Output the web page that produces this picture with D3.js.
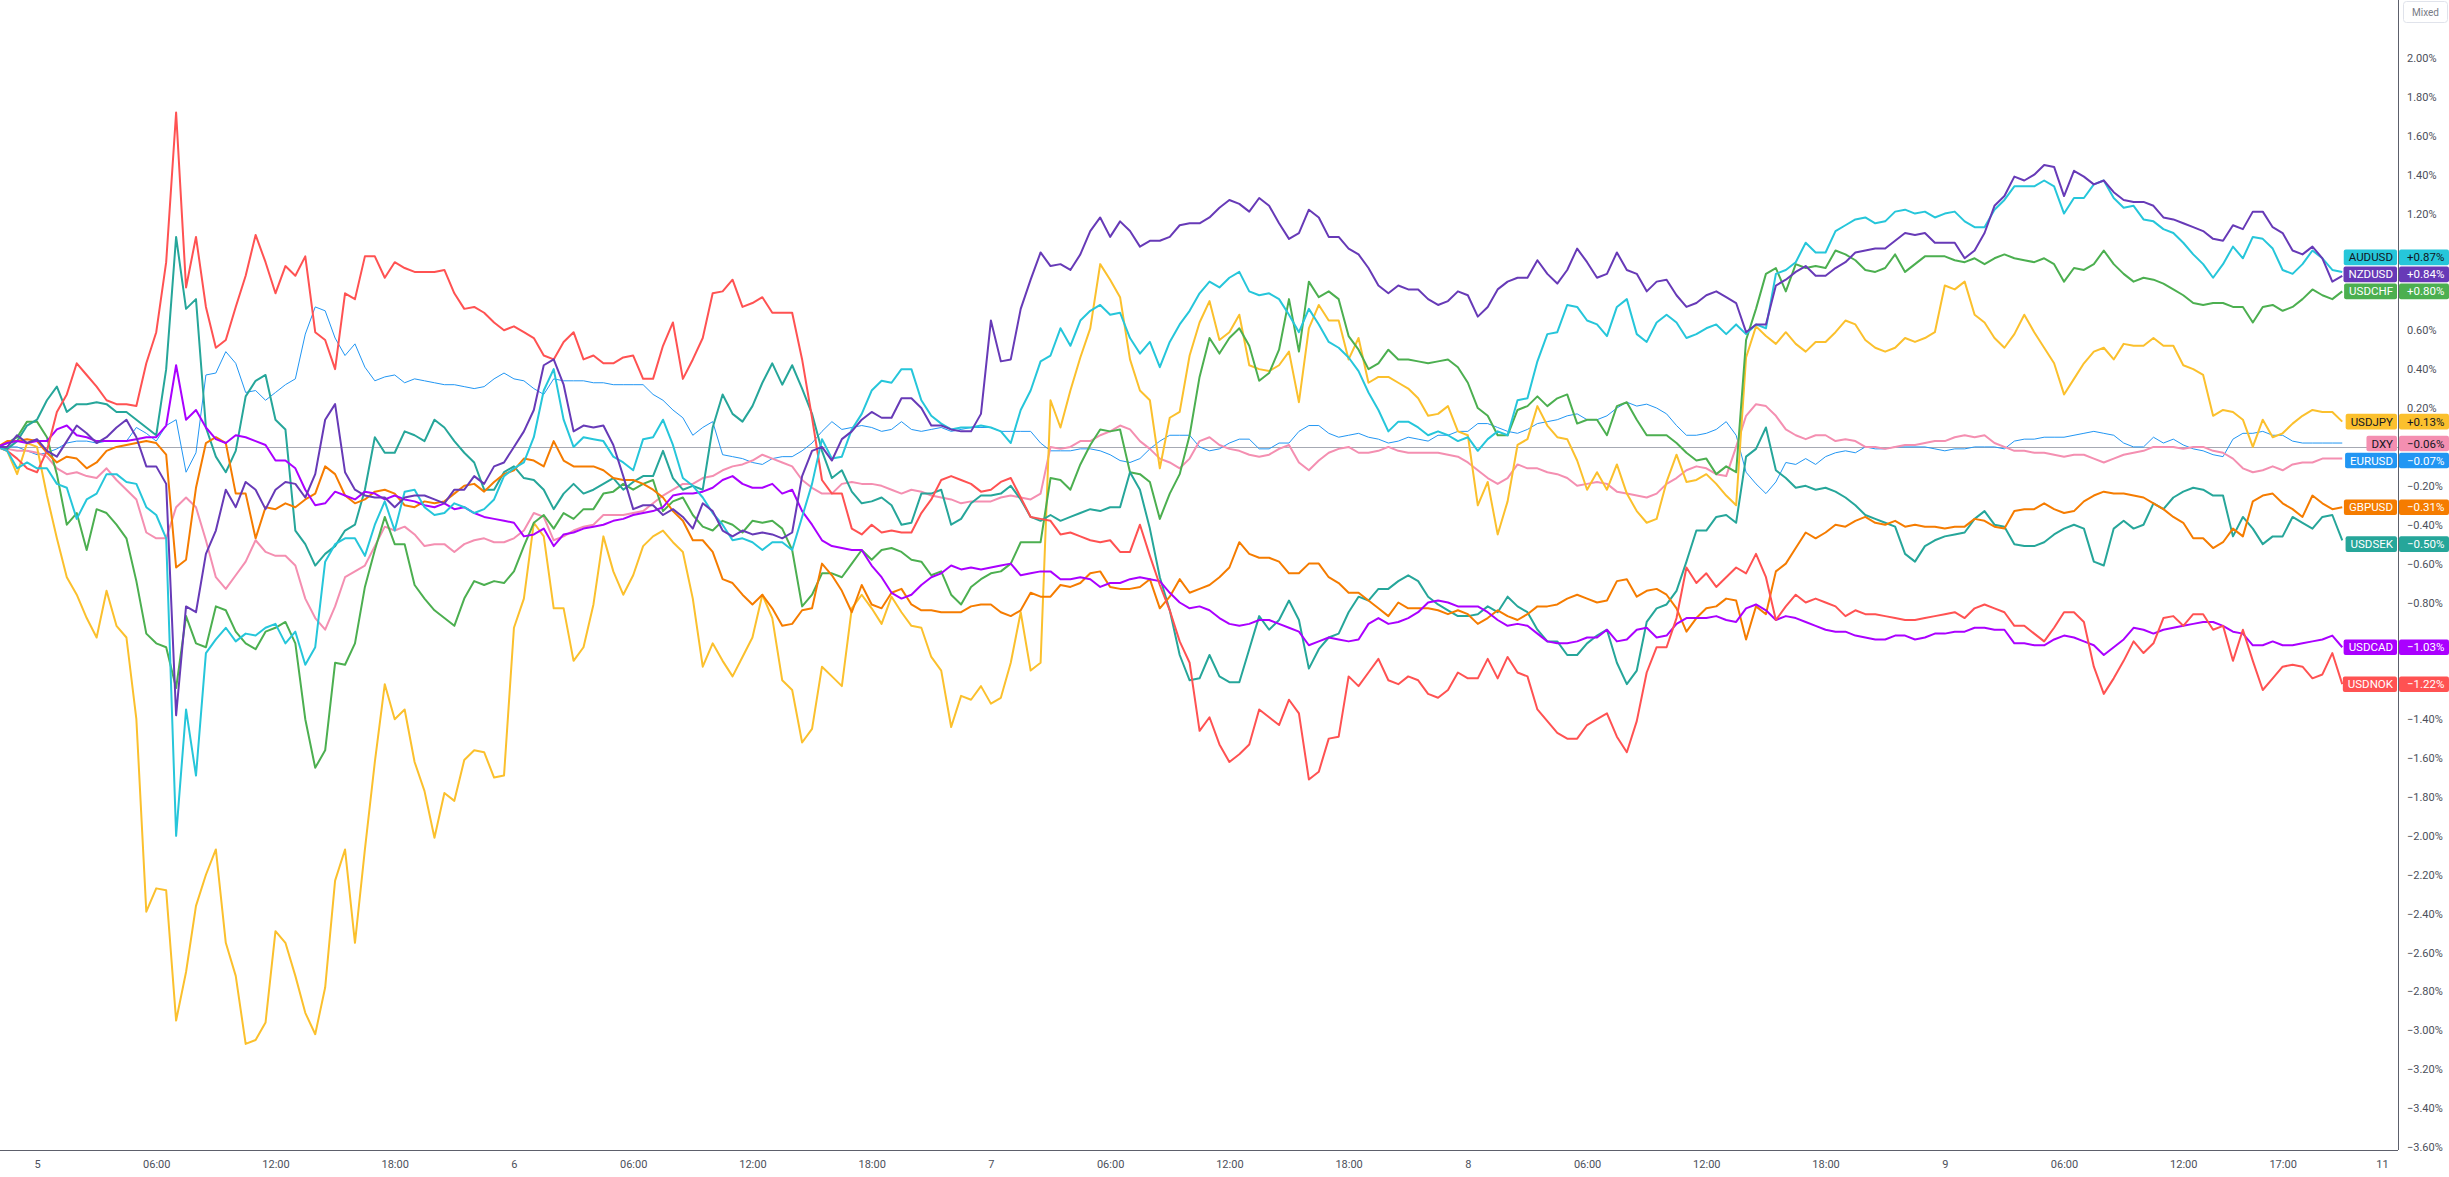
<!DOCTYPE html>
<html>
<head>
<meta charset="utf-8">
<title>Compare</title>
<script src="https://cdn.jsdelivr.net/npm/d3@7"></script>
<style>
  html, body { margin: 0; padding: 0; background: #ffffff; overflow: hidden; }
  svg { display: block; }
  text { font-family: Roboto, "Liberation Sans", Arial, sans-serif; }
</style>
</head>
<body>
<div class="svg-container"></div>
<script>
// hours counted from day 5 00:00 (weekend gap removed, so "11" sits at 118)
var hours = [-2,-1,0,1,2,3,4,5,6,7,8,9,10,11,12,13,14,15,16,17,18,19,20,21,22,23,
  24,25,26,27,28,29,30,31,32,33,34,35,36,37,38,39,40,41,42,43,44,45,46,47,
  48,49,50,51,52,53,54,55,56,57,58,59,60,61,62,63,64,65,66,67,68,69,70,71,
  72,73,74,75,76,77,78,79,80,81,82,83,84,85,86,87,88,89,90,91,92,93,94,95,
  96,97,98,99,100,101,102,103,104,105,106,107,108,109,110,111,112,113,114,115,116];

var halfHours = [-1.5,-0.5,0.5,1.5,2.5,3.5,4.5,5.5,6.5,7.5,8.5,9.5,10.5,11.5,12.5,13.5,14.5,15.5,16.5,17.5,18.5,19.5,20.5,21.5,22.5,
  23.5,24.5,25.5,26.5,27.5,28.5,29.5,30.5,31.5,32.5,33.5,34.5,35.5,36.5,37.5,38.5,39.5,40.5,41.5,42.5,43.5,44.5,45.5,46.5,
  47.5,48.5,49.5,50.5,51.5,52.5,53.5,54.5,55.5,56.5,57.5,58.5,59.5,60.5,61.5,62.5,63.5,64.5,65.5,66.5,67.5,68.5,69.5,70.5,
  71.5,72.5,73.5,74.5,75.5,76.5,77.5,78.5,79.5,80.5,81.5,82.5,83.5,84.5,85.5,86.5,87.5,88.5,89.5,90.5,91.5,92.5,93.5,94.5,
  95.5,96.5,97.5,98.5,99.5,100.5,101.5,102.5,103.5,104.5,105.5,106.5,107.5,108.5,109.5,110.5,111.5,112.5,113.5,114.5,115.5];

// % change on the hour
var audusd = [0,-0.11,-0.11,-0.19,-0.37,-0.24,-0.14,-0.19,-0.35,-2.00,-1.69,-0.99,-1.00,-0.97,-0.91,-0.95,-1.03,-0.50,-0.47,-0.40,-0.43,-0.22,-0.35,-0.29,-0.34,-0.27,
  -0.11,0.05,0.40,0.00,0.04,-0.05,-0.12,0.05,0.01,-0.20,-0.34,-0.48,-0.49,-0.49,-0.53,-0.19,-0.06,0.09,0.29,0.33,0.40,0.16,0.09,0.10,
  0.10,0.02,0.29,0.47,0.52,0.70,0.68,0.56,0.54,0.54,0.70,0.85,0.87,0.80,0.79,0.68,0.71,0.54,0.46,0.28,0.08,0.13,0.06,0.06,
  0.05,0.04,0.06,0.25,0.58,0.73,0.65,0.57,0.76,0.54,0.68,0.56,0.61,0.58,0.58,0.61,0.91,1.05,1.00,1.14,1.18,1.16,1.22,1.21,
  1.20,1.16,1.13,1.27,1.34,1.37,1.20,1.28,1.37,1.23,1.17,1.12,1.05,0.94,0.94,0.97,1.07,0.91,0.94,0.97,0.90];
var nzdusd = [0,0.06,0.04,-0.05,0.11,0.02,0.10,0.05,-0.10,-1.38,-0.85,-0.43,-0.31,-0.22,-0.22,-0.19,-0.14,0.22,-0.22,-0.26,-0.31,-0.25,-0.27,-0.22,-0.15,-0.10,
  0.00,0.19,0.45,0.08,0.10,0.01,-0.32,-0.30,-0.32,-0.42,-0.33,-0.46,-0.45,-0.45,-0.44,-0.02,-0.07,0.08,0.18,0.15,0.25,0.11,0.09,0.08,
  0.65,0.45,0.86,0.93,0.91,1.11,1.08,1.11,1.06,1.08,1.15,1.18,1.27,1.21,1.24,1.07,1.22,1.08,1.02,0.92,0.79,0.81,0.76,0.75,
  0.78,0.72,0.85,0.87,0.89,0.91,0.95,0.89,0.91,0.80,0.86,0.72,0.78,0.77,0.59,0.63,0.86,0.93,0.88,0.95,1.01,1.02,1.10,1.10,
  1.05,0.97,1.10,1.29,1.37,1.45,1.29,1.39,1.37,1.27,1.26,1.18,1.15,1.11,1.06,1.12,1.21,1.10,0.99,0.97,0.88];
var usdchf = [0,0.05,0.13,-0.14,-0.34,-0.32,-0.40,-0.69,-1.01,-1.24,-1.01,-0.82,-0.95,-1.04,-0.93,-1.01,-1.65,-1.11,-1.01,-0.53,-0.50,-0.71,-0.84,-0.92,-0.69,-0.69,
  -0.64,-0.39,-0.42,-0.37,-0.32,-0.23,-0.22,-0.17,-0.28,-0.35,-0.43,-0.40,-0.38,-0.38,-0.53,-0.76,-0.65,-0.60,-0.58,-0.52,-0.58,-0.66,-0.76,-0.72,
  -0.65,-0.60,-0.49,-0.16,-0.22,0.01,0.08,-0.13,-0.18,-0.24,0.06,0.56,0.56,0.52,0.38,0.76,0.85,0.80,0.57,0.40,0.50,0.45,0.43,0.45,
  0.33,0.16,0.06,0.21,0.21,0.27,0.14,0.06,0.23,0.06,0.06,-0.03,-0.06,-0.10,0.55,0.89,0.80,0.92,0.92,0.99,0.91,0.92,0.90,0.98,
  0.98,0.95,0.94,0.99,0.96,0.97,0.85,0.91,1.01,0.89,0.87,0.84,0.78,0.73,0.74,0.72,0.72,0.70,0.76,0.78,0.80];
var usdjpy = [0,-0.14,0.00,-0.47,-0.76,-0.98,-0.92,-1.40,-2.27,-2.95,-2.36,-2.07,-2.72,-3.05,-2.49,-2.72,-3.02,-2.23,-2.55,-1.62,-1.40,-1.62,-2.01,-1.82,-1.56,-1.70,
  -0.93,-0.39,-0.83,-1.10,-0.81,-0.64,-0.66,-0.46,-0.49,-0.78,-1.01,-1.18,-0.98,-0.88,-1.25,-1.45,-1.18,-0.83,-0.83,-0.77,-0.92,-1.08,-1.44,-1.30,
  -1.32,-1.11,-1.15,0.24,0.29,0.61,0.86,0.45,0.24,0.15,0.47,0.75,0.59,0.42,0.39,0.49,0.61,0.65,0.45,0.33,0.36,0.30,0.16,0.21,
  0.06,-0.18,-0.28,0.04,0.11,0.04,-0.22,-0.22,-0.24,-0.39,-0.18,-0.18,-0.14,-0.25,0.46,0.57,0.59,0.49,0.54,0.65,0.55,0.49,0.56,0.56,
  0.83,0.85,0.64,0.51,0.68,0.51,0.27,0.43,0.51,0.53,0.52,0.52,0.42,0.37,0.19,0.14,0.14,0.07,0.16,0.18,0.13];
var dxy = [0,-0.02,-0.03,-0.11,-0.13,-0.16,-0.17,-0.27,-0.47,-0.31,-0.31,-0.67,-0.66,-0.48,-0.56,-0.61,-0.88,-0.82,-0.64,-0.51,-0.43,-0.45,-0.50,-0.54,-0.48,-0.49,
  -0.47,-0.34,-0.48,-0.43,-0.40,-0.35,-0.34,-0.29,-0.22,-0.19,-0.15,-0.10,-0.07,-0.06,-0.10,-0.21,-0.24,-0.18,-0.19,-0.22,-0.22,-0.25,-0.27,-0.28,
  -0.28,-0.25,-0.27,0.00,0.00,0.03,0.08,0.09,-0.01,-0.08,-0.06,0.05,-0.01,-0.04,-0.04,0.01,-0.12,-0.03,0.00,-0.03,0.00,-0.03,-0.03,-0.04,
  -0.08,-0.16,-0.16,-0.11,-0.13,-0.16,-0.19,-0.19,-0.24,-0.26,-0.19,-0.12,-0.11,-0.15,0.16,0.21,0.09,0.04,0.06,0.04,0.00,-0.01,0.01,0.02,
  0.03,0.06,0.06,0.00,-0.02,-0.03,-0.05,-0.04,-0.08,-0.04,-0.02,0.00,-0.01,0.00,-0.03,-0.11,-0.12,-0.12,-0.08,-0.06,-0.06];
var eurusd = [0,0.00,-0.04,-0.01,0.03,0.02,0.03,0.10,0.03,0.14,-0.03,0.38,0.43,0.29,0.28,0.35,0.72,0.56,0.53,0.34,0.37,0.35,0.33,0.32,0.30,0.35,
  0.35,0.30,0.35,0.34,0.33,0.32,0.32,0.27,0.19,0.06,0.13,-0.05,-0.08,-0.06,-0.05,0.02,0.13,0.10,0.10,0.09,0.09,0.09,0.08,0.10,
  0.10,0.08,0.08,-0.02,-0.02,-0.01,-0.04,-0.08,-0.01,0.06,0.06,-0.02,0.02,0.04,-0.01,0.02,0.11,0.07,0.06,0.05,0.02,0.05,0.03,0.06,
  0.08,0.12,0.08,0.09,0.13,0.16,0.14,0.16,0.23,0.22,0.17,0.06,0.07,0.13,-0.13,-0.24,-0.08,-0.06,-0.05,-0.02,0.00,-0.01,0.00,0.00,
  -0.02,-0.01,0.00,-0.01,0.04,0.05,0.05,0.07,0.07,0.02,0.00,0.02,0.01,-0.02,-0.05,0.07,0.08,0.06,0.02,0.02,0.02];
var gbpusd = [0,0.03,0.03,-0.08,-0.06,-0.08,0.00,0.02,0.02,-0.62,-0.21,0.05,-0.24,-0.47,-0.32,-0.31,-0.24,-0.14,-0.29,-0.23,-0.24,-0.31,-0.29,-0.24,-0.19,-0.18,
  -0.12,-0.07,0.03,-0.10,-0.10,-0.16,-0.17,-0.22,-0.33,-0.48,-0.54,-0.70,-0.81,-0.83,-0.91,-0.83,-0.66,-0.85,-0.81,-0.75,-0.81,-0.84,-0.85,-0.82,
  -0.81,-0.87,-0.75,-0.77,-0.72,-0.65,-0.72,-0.73,-0.68,-0.77,-0.75,-0.71,-0.62,-0.55,-0.57,-0.65,-0.60,-0.67,-0.75,-0.79,-0.87,-0.83,-0.83,-0.86,
  -0.86,-0.88,-0.87,-0.86,-0.82,-0.78,-0.78,-0.79,-0.68,-0.74,-0.76,-0.95,-0.83,-0.78,-0.99,-0.86,-0.60,-0.44,-0.44,-0.41,-0.36,-0.40,-0.41,-0.41,
  -0.42,-0.41,-0.38,-0.42,-0.32,-0.29,-0.34,-0.28,-0.23,-0.24,-0.26,-0.32,-0.39,-0.47,-0.49,-0.46,-0.25,-0.29,-0.36,-0.29,-0.31];
var usdsek = [0,0.03,0.14,0.31,0.22,0.23,0.18,0.14,0.06,1.08,0.76,-0.05,-0.02,0.34,0.14,-0.43,-0.61,-0.51,-0.40,0.05,-0.03,0.06,0.14,0.03,-0.08,-0.22,
  -0.10,-0.17,-0.32,-0.19,-0.22,-0.16,-0.18,-0.15,-0.16,-0.20,0.10,0.17,0.21,0.43,0.42,0.17,-0.16,-0.23,-0.28,-0.30,-0.39,-0.24,-0.40,-0.29,
  -0.25,-0.20,-0.36,-0.35,-0.36,-0.32,-0.31,-0.13,-0.42,-0.84,-1.20,-1.07,-1.21,-1.04,-0.94,-0.79,-1.14,-0.98,-0.85,-0.79,-0.73,-0.66,-0.77,-0.84,
  -0.87,-0.82,-0.77,-0.85,-1.00,-1.07,-1.01,-0.94,-1.22,-0.90,-0.81,-0.59,-0.43,-0.35,-0.05,0.10,-0.16,-0.20,-0.21,-0.26,-0.35,-0.39,-0.55,-0.51,
  -0.46,-0.44,-0.33,-0.41,-0.51,-0.49,-0.42,-0.42,-0.61,-0.38,-0.40,-0.32,-0.23,-0.22,-0.25,-0.36,-0.50,-0.46,-0.39,-0.36,-0.48];
var usdcad = [0,0.03,0.03,0.09,0.06,0.03,0.03,0.04,0.05,0.42,0.19,0.04,0.06,0.03,-0.07,-0.11,-0.30,-0.23,-0.27,-0.24,-0.25,-0.28,-0.31,-0.32,-0.34,-0.37,
  -0.39,-0.45,-0.51,-0.44,-0.41,-0.38,-0.35,-0.33,-0.25,-0.24,-0.21,-0.15,-0.21,-0.19,-0.22,-0.40,-0.51,-0.53,-0.61,-0.75,-0.76,-0.67,-0.61,-0.62,
  -0.62,-0.60,-0.65,-0.64,-0.68,-0.68,-0.70,-0.68,-0.68,-0.75,-0.83,-0.84,-0.91,-0.91,-0.89,-0.93,-1.02,-0.98,-1.00,-0.91,-0.91,-0.88,-0.80,-0.80,
  -0.82,-0.85,-0.92,-0.92,-1.00,-1.01,-0.98,-0.94,-0.99,-0.93,-0.97,-0.88,-0.88,-0.89,-0.83,-0.84,-0.87,-0.90,-0.94,-0.95,-0.98,-0.99,-0.97,-0.98,
  -0.96,-0.95,-0.93,-0.94,-1.01,-1.02,-0.97,-1.00,-1.07,-0.99,-0.94,-0.94,-0.92,-0.90,-0.92,-0.96,-1.02,-1.02,-1.01,-0.99,-1.03];
var usdnok = [0,-0.06,-0.13,0.18,0.43,0.31,0.22,0.21,0.59,1.72,1.08,0.51,0.72,1.09,0.79,0.88,0.59,0.40,0.76,0.98,0.95,0.90,0.90,0.79,0.72,0.64,
  0.62,0.56,0.45,0.59,0.47,0.43,0.47,0.35,0.64,0.45,0.79,0.86,0.74,0.69,0.69,0.15,-0.24,-0.42,-0.40,-0.43,-0.44,-0.27,-0.15,-0.19,
  -0.22,-0.16,-0.36,-0.38,-0.44,-0.48,-0.48,-0.54,-0.56,-0.84,-1.11,-1.39,-1.62,-1.53,-1.39,-1.30,-1.71,-1.50,-1.18,-1.16,-1.20,-1.18,-1.27,-1.25,
  -1.19,-1.09,-1.08,-1.18,-1.41,-1.50,-1.43,-1.37,-1.57,-1.16,-1.03,-0.62,-0.65,-0.67,-0.65,-0.67,-0.82,-0.80,-0.80,-0.87,-0.86,-0.87,-0.89,-0.88,
  -0.86,-0.88,-0.81,-0.85,-0.92,-1.00,-0.85,-0.90,-1.27,-1.10,-1.06,-0.88,-0.92,-0.86,-0.92,-0.94,-1.25,-1.13,-1.13,-1.17,-1.22];

// % change on the half hour
var audusd30 = [-0.02,-0.08,-0.11,-0.21,-0.27,-0.14,-0.18,-0.31,-0.47,-1.35,-1.06,-0.93,-0.96,-0.93,-1.01,-1.12,-0.59,-0.47,-0.56,-0.28,-0.23,-0.31,-0.34,-0.31,-0.32,
  -0.15,-0.08,0.29,0.14,0.05,0.03,-0.08,0.04,0.14,-0.16,-0.26,-0.40,-0.47,-0.53,-0.49,-0.36,0.04,-0.05,0.17,0.34,0.40,0.24,0.12,0.10,
  0.11,0.08,0.19,0.44,0.61,0.65,0.73,0.69,0.48,0.41,0.63,0.79,0.82,0.90,0.78,0.76,0.59,0.63,0.51,0.39,0.19,0.13,0.10,0.08,
  0.03,-0.02,0.08,0.24,0.44,0.59,0.72,0.63,0.72,0.58,0.64,0.64,0.58,0.63,0.63,0.63,0.89,0.95,1.00,1.11,1.17,1.15,1.21,1.20,
  1.18,1.21,1.13,1.22,1.34,1.34,1.34,1.28,1.35,1.28,1.24,1.16,1.10,0.99,0.87,1.03,1.08,1.02,0.89,1.01,0.91];
var nzdusd30 = [0.00,0.02,-0.02,0.03,0.07,0.05,0.14,-0.10,-0.19,-0.82,-0.55,-0.22,-0.18,-0.32,-0.18,-0.26,0.14,-0.13,-0.25,-0.26,-0.26,-0.25,-0.29,-0.22,-0.19,
  -0.08,0.08,0.42,0.32,0.11,0.11,-0.15,-0.30,-0.35,-0.36,-0.29,-0.43,-0.43,-0.44,-0.47,-0.15,0.00,0.04,0.14,0.15,0.25,0.20,0.11,0.08,
  0.17,0.44,0.71,1.00,0.94,0.99,1.18,1.16,1.03,1.06,1.14,1.15,1.23,1.25,1.28,1.15,1.10,1.18,1.08,0.99,0.83,0.83,0.81,0.73,
  0.80,0.67,0.81,0.87,0.96,0.84,1.02,0.87,1.00,0.89,0.85,0.78,0.74,0.80,0.74,0.63,0.83,0.90,0.88,0.92,1.00,1.02,1.06,1.09,
  1.05,1.05,1.01,1.24,1.39,1.40,1.44,1.42,1.35,1.31,1.26,1.24,1.17,1.13,1.07,1.14,1.21,1.13,1.01,1.03,0.85];
var usdchf30 = [0.02,0.13,0.05,-0.40,-0.53,-0.34,-0.47,-0.96,-1.03,-0.87,-1.03,-0.84,-1.01,-0.95,-0.90,-1.40,-1.56,-1.12,-0.72,-0.36,-0.50,-0.78,-0.88,-0.78,-0.71,
  -0.70,-0.51,-0.35,-0.34,-0.32,-0.24,-0.19,-0.19,-0.33,-0.26,-0.41,-0.38,-0.44,-0.39,-0.42,-0.82,-0.65,-0.67,-0.53,-0.53,-0.54,-0.59,-0.64,-0.81,
  -0.68,-0.64,-0.49,-0.49,-0.17,-0.09,0.09,0.09,-0.14,-0.37,-0.14,0.36,0.48,0.61,0.34,0.50,0.49,0.77,0.76,0.50,0.43,0.45,0.44,0.44,
  0.41,0.20,0.06,0.19,0.26,0.25,0.12,0.14,0.21,0.14,0.06,0.02,-0.07,-0.14,-0.13,0.71,0.92,0.94,0.93,1.01,0.96,0.90,0.99,0.94,
  0.98,0.96,0.97,0.97,0.97,0.95,0.94,0.92,0.94,0.94,0.85,0.86,0.81,0.74,0.74,0.72,0.64,0.73,0.72,0.81,0.76];
var usdjpy30 = [-0.02,0.02,-0.25,-0.67,-0.88,-0.74,-0.98,-2.39,-2.28,-2.70,-2.20,-2.55,-3.07,-2.96,-2.55,-2.91,-2.78,-2.07,-2.07,-1.22,-1.35,-1.77,-1.78,-1.61,-1.57,
  -1.69,-0.78,-0.46,-0.83,-1.03,-0.46,-0.76,-0.51,-0.43,-0.54,-1.13,-1.10,-1.08,-0.76,-1.20,-1.52,-1.13,-1.23,-0.76,-0.91,-0.85,-0.93,-1.15,-1.28,
  -1.23,-1.29,-0.85,-1.11,0.10,0.46,0.94,0.77,0.29,-0.11,0.18,0.64,0.55,0.68,0.40,0.42,0.23,0.73,0.65,0.56,0.36,0.33,0.25,0.17,
  0.08,-0.30,-0.45,0.01,0.21,0.05,-0.07,-0.13,-0.09,-0.33,-0.37,-0.04,-0.17,-0.19,-0.30,0.62,0.53,0.53,0.54,0.59,0.63,0.51,0.51,0.54,
  0.59,0.81,0.68,0.56,0.58,0.59,0.43,0.35,0.49,0.45,0.52,0.56,0.52,0.40,0.16,0.18,0.00,0.05,0.12,0.19,0.18];
var dxy30 = [-0.01,-0.02,-0.05,-0.14,-0.15,-0.11,-0.22,-0.44,-0.47,-0.26,-0.48,-0.73,-0.59,-0.54,-0.56,-0.78,-0.94,-0.67,-0.61,-0.41,-0.41,-0.51,-0.50,-0.50,-0.47,
  -0.49,-0.43,-0.36,-0.46,-0.41,-0.35,-0.35,-0.33,-0.25,-0.19,-0.16,-0.12,-0.09,-0.04,-0.08,-0.17,-0.24,-0.19,-0.19,-0.20,-0.24,-0.23,-0.26,-0.29,
  -0.28,-0.26,-0.26,-0.24,-0.01,0.03,0.06,0.11,0.03,-0.06,-0.11,0.03,0.01,-0.02,-0.05,-0.01,-0.08,-0.07,-0.01,-0.03,-0.02,-0.02,-0.03,-0.03,
  -0.05,-0.12,-0.19,-0.09,-0.11,-0.14,-0.20,-0.18,-0.23,-0.25,-0.24,-0.16,-0.10,-0.14,0.00,0.22,0.16,0.06,0.06,0.03,0.03,0.00,0.00,0.01,
  0.03,0.05,0.05,0.02,-0.02,-0.03,-0.04,-0.04,-0.06,-0.06,-0.03,0.00,0.00,0.00,-0.02,-0.06,-0.13,-0.10,-0.09,-0.08,-0.06];
var eurusd30 = [0.00,-0.02,-0.03,0.02,0.03,0.03,0.03,0.07,0.11,-0.13,0.37,0.49,0.28,0.24,0.32,0.58,0.70,0.47,0.41,0.36,0.33,0.34,0.32,0.31,0.31,
  0.38,0.34,0.27,0.34,0.34,0.33,0.32,0.32,0.24,0.15,0.10,-0.04,-0.06,-0.09,-0.05,-0.02,0.08,0.09,0.11,0.08,0.13,0.08,0.10,0.09,
  0.10,0.08,0.08,0.02,-0.02,-0.01,-0.02,-0.07,-0.06,0.03,0.06,0.00,-0.01,0.04,-0.01,0.02,0.08,0.11,0.05,0.07,0.04,0.03,0.04,0.06,
  0.08,0.12,0.10,0.07,0.12,0.14,0.17,0.14,0.20,0.21,0.20,0.11,0.06,0.09,0.06,-0.19,-0.18,-0.09,-0.09,-0.03,-0.03,-0.01,0.00,0.00,
  -0.01,-0.01,0.00,0.00,0.03,0.04,0.05,0.06,0.08,0.06,0.00,0.05,0.04,-0.01,-0.04,0.04,0.07,0.06,0.03,0.02,0.02];
var gbpusd30 = [0.03,0.04,-0.03,-0.05,-0.11,-0.02,0.01,0.03,-0.04,-0.58,0.02,0.02,-0.24,-0.31,-0.29,-0.27,-0.10,-0.25,-0.27,-0.22,-0.30,-0.28,-0.28,-0.20,-0.23,
  -0.14,-0.06,-0.10,-0.07,-0.10,-0.12,-0.17,-0.19,-0.26,-0.38,-0.48,-0.68,-0.76,-0.76,-0.92,-0.84,-0.60,-0.74,-0.71,-0.83,-0.73,-0.84,-0.85,-0.85,
  -0.81,-0.85,-0.84,-0.77,-0.71,-0.70,-0.64,-0.73,-0.72,-0.83,-0.68,-0.73,-0.67,-0.49,-0.57,-0.59,-0.65,-0.60,-0.70,-0.75,-0.83,-0.80,-0.83,-0.84,
  -0.84,-0.91,-0.84,-0.89,-0.82,-0.81,-0.76,-0.80,-0.69,-0.77,-0.73,-0.83,-0.88,-0.82,-0.79,-0.82,-0.64,-0.52,-0.47,-0.40,-0.38,-0.39,-0.38,-0.40,
  -0.41,-0.41,-0.37,-0.41,-0.33,-0.32,-0.32,-0.33,-0.25,-0.24,-0.25,-0.29,-0.36,-0.47,-0.52,-0.42,-0.28,-0.24,-0.32,-0.25,-0.32];
var usdsek30 = [-0.01,0.11,0.24,0.18,0.22,0.22,0.18,0.10,0.40,0.71,0.10,-0.13,0.26,0.37,0.09,-0.50,-0.55,-0.43,-0.22,-0.03,0.08,0.03,0.10,-0.03,-0.22,
  -0.13,-0.16,-0.22,-0.24,-0.24,-0.19,-0.22,-0.15,-0.02,-0.22,-0.22,0.27,0.13,0.33,0.32,0.30,-0.02,-0.12,-0.29,-0.26,-0.40,-0.24,-0.22,-0.37,
  -0.25,-0.24,-0.27,-0.38,-0.38,-0.34,-0.33,-0.31,-0.22,-0.67,-1.07,-1.19,-1.18,-1.21,-0.87,-0.89,-0.89,-1.04,-0.96,-0.77,-0.73,-0.69,-0.69,-0.81,
  -0.87,-0.86,-0.85,-0.82,-0.94,-1.00,-1.07,-0.97,-1.11,-1.15,-0.83,-0.74,-0.43,-0.36,-0.39,-0.01,-0.12,-0.21,-0.22,-0.23,-0.30,-0.37,-0.41,-0.59,
  -0.48,-0.45,-0.37,-0.40,-0.50,-0.51,-0.45,-0.40,-0.59,-0.42,-0.42,-0.29,-0.26,-0.21,-0.25,-0.46,-0.42,-0.46,-0.36,-0.42,-0.35];
var usdcad30 = [0.02,0.02,0.03,0.11,0.05,0.03,0.03,0.05,0.11,0.14,0.10,0.02,0.05,0.01,-0.07,-0.22,-0.29,-0.25,-0.23,-0.27,-0.27,-0.30,-0.29,-0.31,-0.36,
  -0.38,-0.46,-0.42,-0.45,-0.42,-0.40,-0.37,-0.34,-0.31,-0.24,-0.23,-0.17,-0.19,-0.21,-0.24,-0.33,-0.48,-0.52,-0.53,-0.67,-0.78,-0.71,-0.65,-0.63,
  -0.63,-0.61,-0.66,-0.64,-0.68,-0.67,-0.72,-0.70,-0.67,-0.69,-0.80,-0.82,-0.88,-0.92,-0.89,-0.91,-0.95,-1.00,-0.99,-0.99,-0.88,-0.90,-0.85,-0.79,
  -0.82,-0.82,-0.89,-0.91,-0.96,-1.01,-1.00,-0.98,-1.00,-0.94,-0.98,-0.91,-0.88,-0.87,-0.90,-0.81,-0.89,-0.88,-0.92,-0.95,-0.97,-0.99,-0.97,-0.99,
  -0.96,-0.95,-0.93,-0.94,-1.01,-1.02,-0.99,-0.98,-1.02,-1.03,-0.93,-0.96,-0.93,-0.91,-0.90,-0.95,-1.02,-1.00,-1.02,-1.00,-0.97];
var usdnok30 = [-0.02,-0.11,-0.02,0.27,0.37,0.24,0.22,0.43,0.95,0.82,0.72,0.55,0.88,0.95,0.93,0.98,0.55,0.79,0.98,0.87,0.92,0.90,0.91,0.71,0.69,
  0.60,0.59,0.47,0.54,0.45,0.43,0.46,0.35,0.52,0.35,0.56,0.80,0.72,0.77,0.69,0.45,-0.17,-0.24,-0.45,-0.44,-0.44,-0.34,-0.17,-0.17,
  -0.23,-0.18,-0.26,-0.37,-0.45,-0.46,-0.49,-0.54,-0.40,-0.71,-1.00,-1.46,-1.53,-1.58,-1.35,-1.43,-1.37,-1.67,-1.49,-1.23,-1.09,-1.22,-1.20,-1.29,
  -1.16,-1.19,-1.19,-1.16,-1.35,-1.47,-1.50,-1.40,-1.49,-1.41,-1.03,-0.88,-0.70,-0.72,-0.62,-0.55,-0.89,-0.76,-0.78,-0.82,-0.84,-0.86,-0.88,-0.89,
  -0.87,-0.85,-0.83,-0.83,-0.92,-0.96,-0.93,-0.85,-1.13,-1.19,-1.00,-1.01,-0.87,-0.86,-0.94,-1.10,-1.10,-1.19,-1.12,-1.19,-1.06];

var seriesNames  = ["AUDUSD", "NZDUSD", "USDCHF", "USDJPY", "DXY", "EURUSD", "GBPUSD", "USDSEK", "USDCAD", "USDNOK"];
var seriesValues = [audusd, nzdusd, usdchf, usdjpy, dxy, eurusd, gbpusd, usdsek, usdcad, usdnok];
var seriesHalf   = [audusd30, nzdusd30, usdchf30, usdjpy30, dxy30, eurusd30, gbpusd30, usdsek30, usdcad30, usdnok30];
var lastValues   = [0.87, 0.84, 0.80, 0.13, -0.06, -0.07, -0.31, -0.50, -1.03, -1.22];
var seriesColors = ["#26c6da", "#673ab7", "#4caf50", "#fbc02d", "#f48fb1", "#2196f3", "#f57c00", "#26a69a", "#aa00ff", "#ff5252"];
var labelInk     = ["#131722", "#ffffff", "#ffffff", "#131722", "#131722", "#ffffff", "#ffffff", "#ffffff", "#ffffff", "#ffffff"];
// order in which the lines are painted (last one on top)
var drawOrder = [5, 4, 3, 2, 7, 6, 8, 9, 0, 1];

var tickHours  = [0, 6, 12, 18, 24, 30, 36, 42, 48, 54, 60, 66, 72, 78, 84, 90, 96, 102, 108, 113, 118];
var tickLabels = ["5", "06:00", "12:00", "18:00", "6", "06:00", "12:00", "18:00", "7", "06:00", "12:00", "18:00",
                  "8", "06:00", "12:00", "18:00", "9", "06:00", "12:00", "17:00", "11"];
var yTickValues = [2.0, 1.8, 1.6, 1.4, 1.2, 1.0, 0.8, 0.6, 0.4, 0.2, 0, -0.2, -0.4, -0.6, -0.8, -1.0, -1.2, -1.4,
                   -1.6, -1.8, -2.0, -2.2, -2.4, -2.6, -2.8, -3.0, -3.2, -3.4, -3.6];

var W = 2449, H = 1177;
var plotRight = 2398, plotBottom = 1150;
var FONT = "Roboto, 'Liberation Sans', Arial, sans-serif";

function pct(v, signed) {
  var s = Math.abs(v).toFixed(2) + "%";
  if (Math.round(v * 100) < 0) return "\u2212" + s;
  return (signed ? "+" : "") + s;
}

// hourly and half-hourly readings merged in time order
function seriesPoints(k) {
  var pts = hours.map(function(h, i) { return [h, seriesValues[k][i]]; })
    .concat(halfHours.map(function(h, i) { return [h, seriesHalf[k][i]]; }));
  return pts.sort(function(a, b) { return a[0] - b[0]; });
}

function draw() {
  var x = d3.scaleLinear().domain([0, 118]).range([37, 2382]);
  var y = d3.scaleLinear().domain([-3.6, 2.0]).range([1147, 58]);

  var svg = d3.select(".svg-container").append("svg")
    .attr("width", W)
    .attr("height", H);

  svg.append("rect").attr("width", W).attr("height", H).attr("fill", "#ffffff");

  svg.append("defs").append("clipPath").attr("id", "plot-clip")
    .append("rect").attr("x", 0).attr("y", 0).attr("width", plotRight).attr("height", plotBottom);

  // zero line
  svg.append("line")
    .attr("x1", 0).attr("x2", plotRight)
    .attr("y1", Math.round(y(0)) + 0.5).attr("y2", Math.round(y(0)) + 0.5)
    .attr("stroke", "#a6a9b3").attr("stroke-width", 1);

  var lineFunction = d3.line()
    .x(function(d) { return x(d[0]); })
    .y(function(d) { return y(d[1]); });

  var lines = svg.append("g").attr("clip-path", "url(#plot-clip)");
  drawOrder.forEach(function(k) {
    lines.append("path")
      .attr("d", lineFunction(seriesPoints(k)))
      .attr("fill", "none")
      .attr("stroke", seriesColors[k])
      .attr("stroke-width", seriesNames[k] === "EURUSD" ? 1 : 2)
      .attr("stroke-linejoin", "round");
  });

  // where the last value labels go, pushed up where they would overlap
  var order = d3.range(seriesNames.length).sort(function(a, b) { return y(lastValues[b]) - y(lastValues[a]); });
  var pos = [];
  var prev = Infinity;
  order.forEach(function(k) {
    var p = Math.min(y(lastValues[k]), prev - 17);
    pos[k] = p;
    prev = p;
  });

  // price scale, skipping ticks that sit under a value label
  var shownTicks = yTickValues.filter(function(v) {
    return pos.every(function(p) { return Math.abs(y(v) - p) > 12; });
  });
  var yAxis = svg.append("g")
    .attr("transform", "translate(" + plotRight + ",0)")
    .call(d3.axisRight(y).tickValues(shownTicks).tickSize(0).tickPadding(9)
      .tickFormat(function(d) { return pct(d, false); }));
  yAxis.select(".domain").remove();
  yAxis.selectAll("text").attr("font-size", 11).attr("fill", "#4c4f5a").attr("font-family", FONT);

  // time scale
  var xAxis = svg.append("g")
    .attr("transform", "translate(0," + plotBottom + ")")
    .call(d3.axisBottom(x).tickValues(tickHours).tickSize(0).tickPadding(10)
      .tickFormat(function(d, i) { return tickLabels[i]; }));
  xAxis.select(".domain").remove();
  xAxis.selectAll("text").attr("font-size", 11).attr("fill", "#4c4f5a").attr("font-family", FONT);

  svg.append("line")
    .attr("x1", plotRight + 0.5).attr("x2", plotRight + 0.5)
    .attr("y1", 0).attr("y2", plotBottom)
    .attr("stroke", "#5d606b").attr("stroke-width", 1);
  svg.append("line")
    .attr("x1", 0).attr("x2", plotRight)
    .attr("y1", plotBottom + 0.5).attr("y2", plotBottom + 0.5)
    .attr("stroke", "#5d606b").attr("stroke-width", 1);

  var labels = svg.append("g");
  seriesNames.forEach(function(name, k) {
    var g = labels.append("g");
    var nameRect = g.append("rect");
    var nameText = g.append("text")
      .attr("x", plotRight - 5)
      .attr("y", pos[k])
      .attr("dy", "0.35em")
      .attr("text-anchor", "end")
      .attr("font-size", 11.5)
      .attr("fill", labelInk[k])
      .text(name);
    var w = nameText.node().getComputedTextLength();
    nameRect
      .attr("x", plotRight - 1 - w - 9)
      .attr("y", pos[k] - 7.8)
      .attr("width", w + 9)
      .attr("height", 15.6)
      .attr("rx", 2)
      .attr("fill", seriesColors[k]);
    g.append("rect")
      .attr("x", plotRight + 1)
      .attr("y", pos[k] - 7.8)
      .attr("width", W - plotRight - 1)
      .attr("height", 15.6)
      .attr("rx", 2)
      .attr("fill", seriesColors[k]);
    g.append("text")
      .attr("x", plotRight + 9)
      .attr("y", pos[k])
      .attr("dy", "0.35em")
      .attr("font-size", 11.5)
      .attr("fill", labelInk[k])
      .text(pct(lastValues[k], true));
  });

  // scale mode button
  svg.append("rect")
    .attr("x", 2403.5).attr("y", 1.5).attr("width", 44).attr("height", 21).attr("rx", 3)
    .attr("fill", "#ffffff").attr("stroke", "#e0e3eb");
  svg.append("text")
    .attr("x", 2425.5).attr("y", 12).attr("dy", "0.35em")
    .attr("text-anchor", "middle").attr("font-size", 10).attr("fill", "#787b86")
    .text("Mixed");
}

draw();
</script>
</body>
</html>
